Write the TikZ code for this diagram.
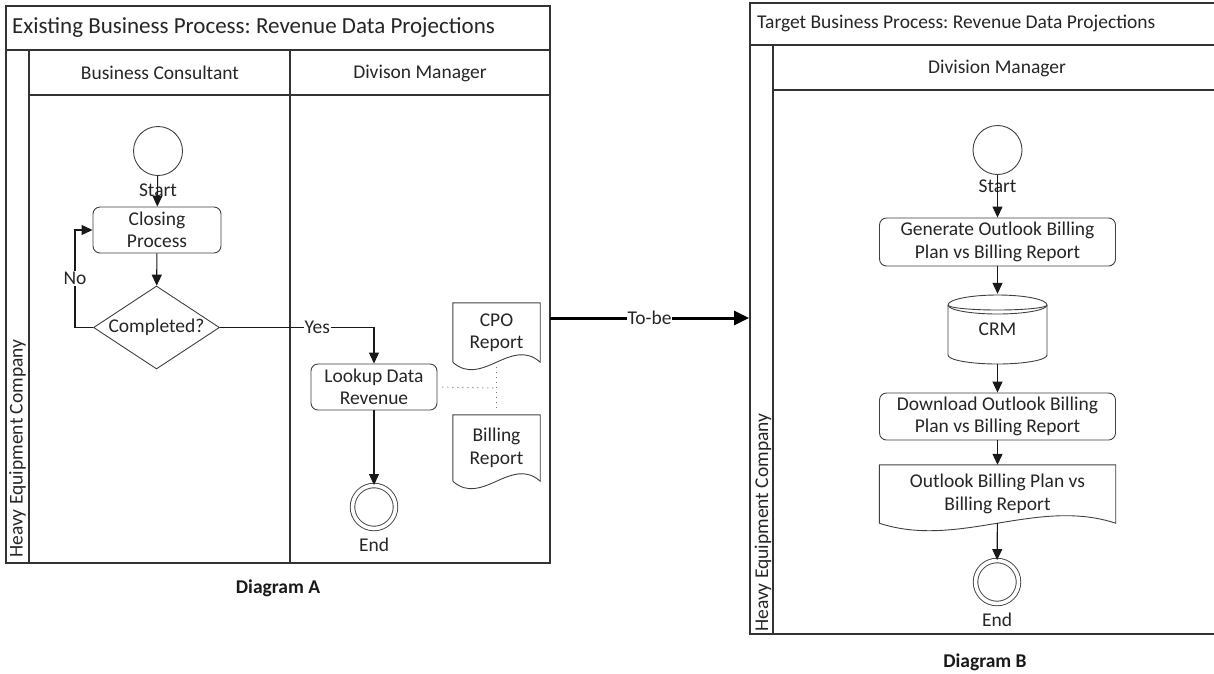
\documentclass[tikz,border=0pt]{standalone}
\usepackage{fontspec}
\setmainfont{Carlito}
\usetikzlibrary{arrows.meta,shapes.geometric,calc}
\frenchspacing

\tikzset{
  base/.style={font=\fontsize{19.5}{22.5}\selectfont, text=black!85, inner sep=0pt},
  frame/.style={draw=black!80, line width=1.4pt},
  shapeline/.style={draw=black!75, line width=0.9pt},
  proc/.style={base, shapeline, rounded corners=7pt, align=center},
  event/.style={circle, shapeline, minimum size=49pt, inner sep=0pt},
  endevent/.style={circle, draw=black!75, line width=0.9pt, double, double distance=3.6pt, minimum size=43pt, inner sep=0pt},
  decision/.style={diamond, shapeline, minimum width=126pt, minimum height=83pt, inner sep=0pt},
  doc/.style={base, align=center},
  flow/.style={draw=black!90, line width=1.1pt, -{Triangle[length=11pt,width=10pt]}},
  assoc/.style={draw=black!55, line width=1pt, dash pattern=on 1pt off 4pt},
  lbl/.style={base, fill=white, inner sep=1pt},
  tobe/.style={draw=black, line width=3pt, -{Triangle[length=15pt,width=14pt]}},
  caption/.style={font=\bfseries\fontsize{19.5}{22.5}\selectfont, text=black!90, inner sep=0pt}
}

% wavy-bottom document outline drawn around a node
\newcommand\docoutline[1]{%
  \draw[shapeline] let \p1=(#1.south west), \p2=(#1.north east), \n1={\x2-\x1} in
    (\p1) -- (\x1,\y2) -- (\p2) -- (\x2,\y1)
    .. controls (\x2-\n1/3,\y1+26pt) and (\x1+\n1/3,\y1-26pt) .. (\p1);}

\begin{document}
\begin{tikzpicture}[x=1pt,y=-1pt]
\clip (0,0) rectangle (1214,673);
\fill[white] (0,0) rectangle (1214,673);

% ---------- Existing process pool ----------
\draw[frame] (6,6) rectangle (550,563);
\draw[frame] (6,50) -- (550,50);
\draw[frame] (29,50) -- (29,563);
\draw[frame] (29,95) -- (550,95);
\draw[frame] (290,50) -- (290,563);
\node[base, anchor=west, font=\fontsize{23}{26}\selectfont] (titleA) at (12,28) {Existing Business Process: Revenue Data Projections};
\node[base] (laneBC) at (160,73) {Business Consultant};
\node[base] (laneDM) at (420,73) {Divison Manager};
\node[base, rotate=90, anchor=west] (poolA) at (17.5,558) {Heavy Equipment Company};

\node[event] (startA) at (158,151) {};
\node[base] (startAl) at (158,190) {Start};
\node[proc, minimum width=128pt, minimum height=46pt] (closing) at (157,230) {Closing\\Process};
\node[decision] (dec) at (156.5,327.5) {};
\node[base] (decl) at (156.5,327.5) {Completed?};
\node[proc, minimum width=126pt, minimum height=46pt] (lookup) at (374,387) {Lookup Data\\Revenue};
\node[endevent] (endA) at (374,507) {};
\node[base] (endAl) at (374,545) {End};

\node[doc, minimum width=87pt, minimum height=59pt] (cpo) at (496.5,332.5) {CPO\\Report};
\docoutline{cpo}
\node[doc, minimum width=87pt, minimum height=66pt] (billing) at (496.5,448) {Billing\\Report};
\docoutline{billing}

\draw[flow] (startA) -- (closing);
\draw[flow] (closing) -- (dec);
\coordinate (loopx) at (75,0);
\draw[flow] (dec.west) -- (dec.west -| loopx) |- node[lbl, pos=0.25] {No} (closing.west);
\draw[flow] (dec.east) -| node[lbl, pos=0.316] {Yes} (lookup.north);
\draw[flow] (lookup) -- (endA);
\coordinate (junction) at (497,388);
\draw[assoc, shorten <=5pt] (lookup.east) -- (junction);
\draw[assoc, shorten <=5pt, shorten >=3pt] (cpo.south) -- (billing.north);

\node[caption] (capA) at (278,588) {Diagram A};

% ---------- transition ----------
\coordinate (tobeA) at (550,318);
\coordinate (tobeB) at (749,318);
\draw[tobe] (tobeA) -- node[lbl] {To-be} (tobeB);

% ---------- Target process pool ----------
\draw[frame] (750,3) rectangle (1222,634);
\draw[frame] (750,45) -- (1222,45);
\draw[frame] (773,45) -- (773,634);
\draw[frame] (773,90) -- (1222,90);
\node[base, anchor=west, font=\fontsize{19.5}{22}\selectfont] (titleB) at (757,23) {Target Business Process: Revenue Data Projections};
\node[base] (laneDM2) at (997,68) {Division Manager};
\node[base, rotate=90, anchor=west] (poolB) at (763,632) {Heavy Equipment Company};

\node[event] (startB) at (997.5,150) {};
\node[base] (startBl) at (997.5,186) {Start};
\node[proc, minimum width=236pt, minimum height=48pt] (gen) at (997.5,242) {Generate Outlook Billing\\Plan vs Billing Report};
\node[base, minimum width=99pt, minimum height=70pt] (crm) at (997.5,329) {CRM};
\draw[shapeline] (948,305) -- (948,355) arc[start angle=180, end angle=360, x radius=49.5pt, y radius=9pt]
  -- (1047,305) arc[start angle=0, end angle=180, x radius=49.5pt, y radius=10pt];
\draw[shapeline] (948,305) arc[start angle=180, end angle=360, x radius=49.5pt, y radius=5pt];
\draw[shapeline] (948,305) arc[start angle=180, end angle=360, x radius=49.5pt, y radius=9pt];
\node[proc, minimum width=236pt, minimum height=47pt] (down) at (997.5,416.5) {Download Outlook Billing\\Plan vs Billing Report};
\node[doc, minimum width=236pt, minimum height=58pt] (outlook) at (997.5,494) {Outlook Billing Plan vs\\Billing Report};
\docoutline{outlook}
\node[endevent] (endB) at (997,582) {};
\node[base] (endBl) at (997,620) {End};

\draw[flow] (startB) -- (gen);
\draw[flow] (gen) -- (crm);
\draw[flow] (crm) -- (down);
\draw[flow] (down) -- (outlook);
\draw[flow] (outlook) -- (endB);

\node[caption] (capB) at (985,662) {Diagram B};
\end{tikzpicture}
\end{document}
